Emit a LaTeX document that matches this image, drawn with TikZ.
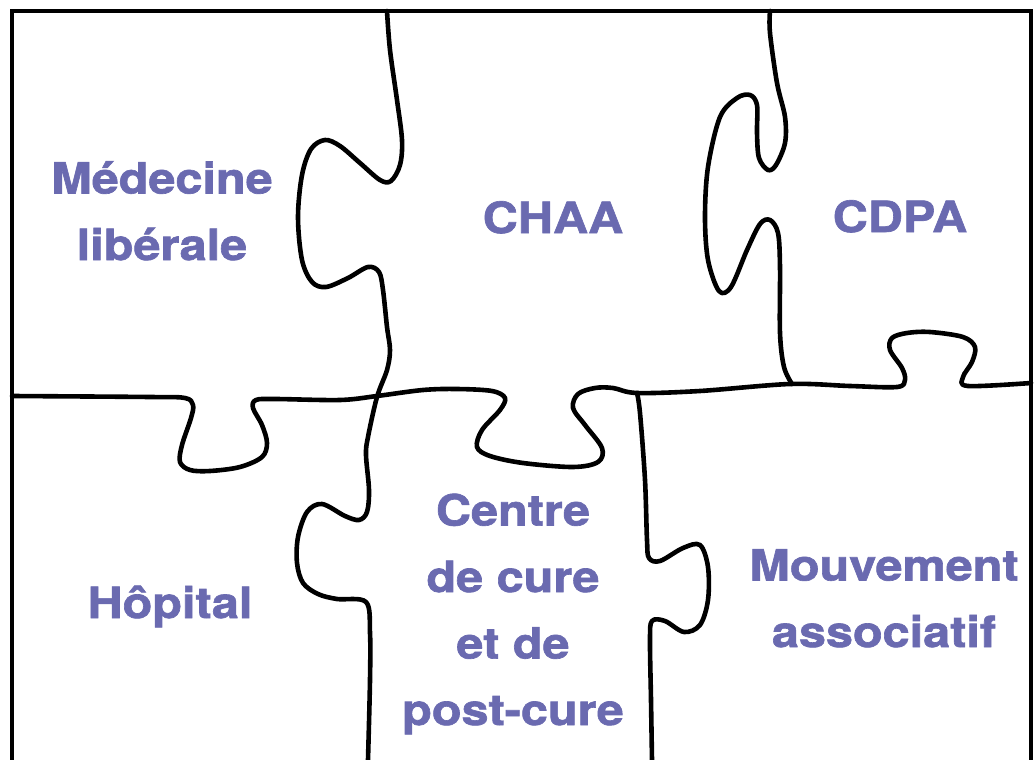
\documentclass[tikz,border=0pt]{standalone}
\usepackage{fontspec}
\newfontfamily\piecefont{texgyreheros-bold.otf}[FakeBold=1.5, FakeStretch=1.13]
\usetikzlibrary{positioning}
\definecolor{piecetext}{RGB}{106,106,176}
\tikzset{x=1pt, y=-1pt, % One unit is one pixel of the sketch, y going down
      cut/.style={ % Sets the properties for each puzzle cut
      line width=4.6pt,
      line join=round,
      line cap=round},
      piece/.style={ % Sets the properties for each piece label
      text=piecetext,
      font=\fontsize{43}{66.5}\selectfont\piecefont,
      align=center,
      anchor=base, % base of the last line
      inner sep=0pt}}

\begin{document}
\begin{tikzpicture}
      \useasboundingbox (0,0) rectangle (1034,760);
      % frame
      \draw[cut, line join=miter, line cap=butt] (12,760) -- (12,11) -- (1031,11) -- (1031,760);
      % cut between the two upper left pieces and the lower ones
      \draw[cut] plot[smooth, tension=0.55] coordinates {(387,11) (390,50) (397,100) (402,140) (400,165) (391,181) (380,180) (360,163) (340,146) (325,140) (311,149) (302,175) (298,217) (302,260) (312,282) (326,287) (348,278) (368,267) (379,272) (383,290) (387,327) (390,350) (387,370) (377,397) (368,437) (366,455) (369,490) (367,512) (359,520) (345,516) (322,504) (307,512) (298,537) (297,563) (303,583) (318,594) (337,599) (366,602) (370,633) (370,680) (368,760)};
      \draw[cut] plot[smooth, tension=0.55] coordinates {(12,396) (150,397) (185,398) (193,405) (191,418) (182,445) (180,462) (190,470) (210,471) (240,467) (262,457) (267,443) (262,425) (253,408) (256,400) (275,399) (340,400) (377,396) (423,390) (457,389) (492,391) (505,398) (500,410) (482,430) (477,447) (490,456) (523,463) (573,467) (598,462) (602,448) (585,425) (573,408) (578,394) (595,388) (613,388) (637,393) (700,391) (790,384) (850,386) (897,387) (905,380) (902,368) (890,350) (892,338) (907,333) (930,332) (963,337) (975,347) (972,362) (963,377) (968,386) (1031,383)};
      \draw[cut] plot[smooth, tension=0.55] coordinates {(637,393) (640,413) (645,480) (647,540) (649,558) (660,561) (683,548) (700,545) (708,567) (708,600) (700,625) (684,632) (665,621) (652,621) (650,640) (651,700) (652,760)};
      \draw[cut] plot[smooth, tension=0.55] coordinates {(770,11) (770,33) (777,83) (785,117) (785,143) (776,165) (768,170) (759,158) (757,133) (757,105) (750,95) (737,98) (720,117) (708,167) (705,217) (708,260) (719,291) (731,287) (747,250) (760,224) (770,220) (778,233) (780,267) (780,333) (784,367) (792,384)};
      % labels
      \node[piece] (medecine) at (162,260) {Médecine\\libérale};
      \node[piece] (chaa) at (553,233) {CHAA};
      \node[piece] (cdpa) at (900,232) {CDPA};
      \node[piece] (hopital) at (170,618) {Hôpital};
      \node[piece] (centre) at (513,725) {Centre\\de cure\\et de\\post-cure};
      \node[piece] (mouvement) at (884,647) {Mouvement\\associatif};
\end{tikzpicture}
\end{document}
